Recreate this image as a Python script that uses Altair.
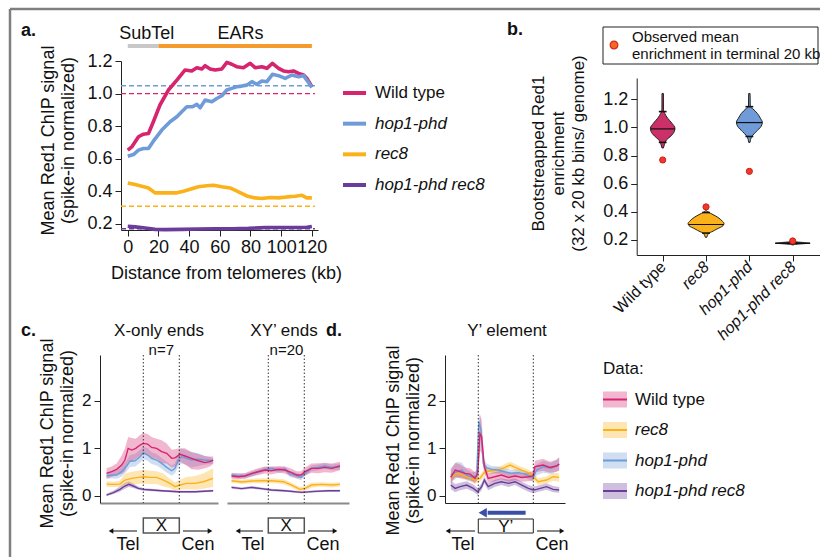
import altair as alt
import pandas as pd

FONT = "Liberation Sans"
W, H = 820, 557

STRAINS = ["Wild type", "hop1-phd", "rec8", "hop1-phd rec8"]
LINE_COLORS = ["#d6246e", "#6f9bd8", "#fbb21a", "#6a3d9a"]
COL = dict(zip(STRAINS, LINE_COLORS))
B_ORDER = ["Wild type", "rec8", "hop1-phd", "hop1-phd rec8"]
VIOLIN_COLORS = ["#cc3068", "#fbb21a", "#6f9bd8", "#111111"]
D_LEG_ORDER = ["Wild type", "rec8", "hop1-phd", "hop1-phd rec8"]

# ---------------- panel a : mean signal vs distance from telomere ----------------
A_KB = {
    "Wild type": [0, 2.6, 7, 10.2, 13.5, 16.7, 21, 26.5, 32, 37.4, 41.7, 45, 48.3, 50.4, 53.7, 57, 61.3, 64.6,
                  67.8, 71, 75.4, 79.8, 83, 87.4, 90.7, 94.3, 98.3, 101.5, 104.8, 108, 111.3, 114.6, 116.7, 120],
    "hop1-phd": [0, 3.7, 7, 10.2, 13.5, 16.7, 22.2, 27.6, 32, 35.2, 38.5, 42.2, 45, 47.2, 50.4, 54.8, 58, 61.3,
                 64.6, 67.8, 71, 74.3, 77.6, 80.9, 84.1, 87.4, 90.7, 94.3, 98.3, 102.6, 107, 111.3, 114.6, 116.7, 120],
    "rec8": [0, 4.8, 9.1, 13.5, 17.8, 22.2, 26.5, 32, 36.3, 40.7, 46.1, 51.5, 55.9, 61.3, 66.7, 72.2, 77.6, 83,
             87.4, 92.8, 98.3, 103.7, 109.1, 113.5, 116.7, 120],
    "hop1-phd rec8": [0, 4.8, 11.3, 17.8, 24.3, 35.2, 46.1, 57, 67.8, 78.7, 89.6, 100.4, 111.3, 116.7, 120],
}
A_SIGNAL = {
    "Wild type": [0.653, 0.673, 0.735, 0.751, 0.755, 0.827, 0.93, 1.022, 1.083, 1.145, 1.139, 1.159, 1.151, 1.171,
                  1.151, 1.145, 1.151, 1.192, 1.18, 1.165, 1.159, 1.186, 1.159, 1.165, 1.155, 1.186, 1.155, 1.139,
                  1.134, 1.139, 1.124, 1.114, 1.094, 1.042],
    "hop1-phd": [0.616, 0.626, 0.653, 0.663, 0.663, 0.708, 0.776, 0.827, 0.858, 0.889, 0.919, 0.919, 0.934, 0.913,
                 0.96, 0.95, 0.97, 0.987, 1.022, 1.032, 1.042, 1.046, 1.052, 1.073, 1.057, 1.077, 1.073, 1.118,
                 1.11, 1.093, 1.114, 1.104, 1.11, 1.083, 1.038],
    "rec8": [0.452, 0.442, 0.432, 0.421, 0.391, 0.391, 0.391, 0.391, 0.401, 0.413, 0.428, 0.434, 0.438, 0.428,
             0.421, 0.397, 0.372, 0.36, 0.356, 0.362, 0.36, 0.366, 0.37, 0.376, 0.36, 0.36],
    "hop1-phd rec8": [0.186, 0.182, 0.175, 0.167, 0.165, 0.167, 0.169, 0.171, 0.171, 0.173, 0.178, 0.178, 0.178,
                      0.18, 0.184],
}
A_GENOME_MEAN = [1.0, 1.048, 0.309, 0.171]          # dashed lines, STRAINS order
A_REGIONS = ["SubTel", "EARs"]
A_REGION_START = [0, 20]
A_REGION_END = [20, 120]
A_REGION_COLORS = ["#c8c8c8", "#f59a2c"]
A_XTICKS = [0, 20, 40, 60, 80, 100, 120]
A_YTICKS = [0.2, 0.4, 0.6, 0.8, 1.0, 1.2]

# ---------------- panel b : bootstrapped enrichment (violins) ----------------
B_OBSERVED = [0.769, 0.435, 0.688, 0.193]
B_MEDIAN = [0.99, 0.31, 1.035, 0.176]
B_MEDIAN_HW = [0.28, 0.41, 0.30, 0.40]
B_Q_HI = [1.113, 0.395, 1.148]
B_Q_LO = [0.894, 0.249, 0.936]
VIOLIN_V = {
    "Wild type": [1.242, 1.125, 1.10, 1.066, 1.03, 0.995, 0.972, 0.94, 0.913, 0.878, 0.854],
    "rec8": [0.407, 0.395, 0.384, 0.36, 0.336, 0.318, 0.301, 0.278, 0.259, 0.249, 0.219],
    "hop1-phd": [1.242, 1.148, 1.136, 1.10, 1.066, 1.038, 1.007, 0.972, 0.941, 0.915, 0.894],
    "hop1-phd rec8": [0.19, 0.186, 0.181, 0.177, 0.173, 0.169, 0.165],
}
VIOLIN_HW = {
    "Wild type": [0.016, 0.018, 0.046, 0.115, 0.214, 0.283, 0.269, 0.191, 0.092, 0.039, 0.016],
    "rec8": [0.018, 0.069, 0.138, 0.276, 0.368, 0.414, 0.391, 0.253, 0.138, 0.069, 0.018],
    "hop1-phd": [0.016, 0.021, 0.069, 0.184, 0.253, 0.299, 0.269, 0.161, 0.069, 0.028, 0.016],
    "hop1-phd rec8": [0.018, 0.092, 0.276, 0.402, 0.23, 0.069, 0.018],
}

# ---------------- panels c, d : metaplots with confidence bands ----------------
C1 = {
    "Wild type": dict(
        x=[-1.02, -0.88, -0.74, -0.6, -0.51, -0.42, -0.32, -0.21, -0.09, 0, 0.12, 0.23, 0.37, 0.51, 0.65, 0.79, 0.88,
           1.02, 1.16, 1.34, 1.53, 1.71, 1.85, 1.94],
        m=[0.476, 0.51, 0.56, 0.65, 0.755, 1.0, 0.965, 1.0, 1.07, 1.105, 1.09, 1.02, 1.0, 0.93, 0.895, 0.79, 0.80,
           0.874, 0.84, 0.79, 0.74, 0.70, 0.72, 0.755],
        lo=[0.37, 0.40, 0.44, 0.46, 0.52, 0.72, 0.72, 0.78, 0.84, 0.87, 0.86, 0.80, 0.78, 0.69, 0.68, 0.60, 0.62,
            0.72, 0.66, 0.56, 0.55, 0.58, 0.62, 0.67],
        hi=[0.58, 0.62, 0.68, 0.85, 1.0, 1.24, 1.22, 1.2, 1.28, 1.33, 1.30, 1.24, 1.2, 1.17, 1.1, 0.97, 0.98, 1.0,
            1.0, 0.92, 0.88, 0.84, 0.83, 0.83]),
    "hop1-phd": dict(
        x=[-1.02, -0.88, -0.74, -0.6, -0.46, -0.37, -0.23, -0.09, 0, 0.12, 0.23, 0.37, 0.51, 0.65, 0.79, 0.88, 0.97,
           1.06, 1.2, 1.34, 1.53, 1.71, 1.94],
        m=[0.42, 0.44, 0.44, 0.51, 0.63, 0.73, 0.74, 0.825, 0.91, 0.86, 0.79, 0.755, 0.685, 0.60, 0.53, 0.58, 0.755,
           0.825, 0.79, 0.755, 0.77, 0.755, 0.74],
        lo=[0.35, 0.37, 0.36, 0.41, 0.52, 0.61, 0.62, 0.70, 0.77, 0.74, 0.67, 0.64, 0.57, 0.49, 0.43, 0.47, 0.62,
            0.68, 0.65, 0.6, 0.63, 0.66, 0.67],
        hi=[0.50, 0.52, 0.53, 0.62, 0.75, 0.86, 0.88, 0.97, 1.03, 1.0, 0.92, 0.88, 0.8, 0.72, 0.64, 0.69, 0.9, 0.99,
            0.96, 0.93, 0.9, 0.84, 0.8]),
    "rec8": dict(
        x=[-1.02, -0.83, -0.65, -0.51, -0.32, -0.14, 0, 0.19, 0.37, 0.56, 0.74, 0.88, 1.02, 1.2, 1.44, 1.67, 1.94],
        m=[0.25, 0.245, 0.25, 0.335, 0.37, 0.39, 0.405, 0.39, 0.39, 0.335, 0.265, 0.196, 0.23, 0.265, 0.265, 0.30,
           0.37],
        lo=[0.19, 0.19, 0.19, 0.22, 0.24, 0.25, 0.26, 0.25, 0.25, 0.2, 0.17, 0.11, 0.13, 0.14, 0.13, 0.15, 0.19],
        hi=[0.31, 0.30, 0.32, 0.47, 0.51, 0.53, 0.55, 0.53, 0.52, 0.47, 0.36, 0.29, 0.34, 0.40, 0.42, 0.48, 0.58]),
    "hop1-phd rec8": dict(
        x=[-1.02, -0.83, -0.65, -0.51, -0.4, -0.28, -0.14, 0, 0.23, 0.51, 0.97, 1.44, 1.94],
        m=[0.02, 0.07, 0.14, 0.21, 0.245, 0.21, 0.16, 0.14, 0.126, 0.11, 0.09, 0.09, 0.11],
        lo=[0.0, 0.04, 0.09, 0.15, 0.19, 0.17, 0.13, 0.11, 0.10, 0.09, 0.07, 0.07, 0.09],
        hi=[0.05, 0.11, 0.2, 0.28, 0.31, 0.26, 0.2, 0.17, 0.15, 0.13, 0.11, 0.11, 0.13]),
}
C2 = {
    "Wild type": dict(
        x=[-1.02, -0.83, -0.65, -0.46, -0.28, -0.09, 0.09, 0.28, 0.46, 0.65, 0.79, 0.91, 1.02, 1.2, 1.39, 1.57,
           1.76, 1.99],
        m=[0.42, 0.405, 0.42, 0.475, 0.51, 0.545, 0.53, 0.56, 0.545, 0.49, 0.44, 0.44, 0.51, 0.58, 0.58, 0.60,
           0.58, 0.63],
        lo=[0.36, 0.35, 0.36, 0.41, 0.44, 0.47, 0.45, 0.49, 0.47, 0.41, 0.37, 0.37, 0.43, 0.49, 0.48, 0.5, 0.49,
            0.54],
        hi=[0.48, 0.47, 0.48, 0.54, 0.58, 0.62, 0.61, 0.63, 0.62, 0.57, 0.52, 0.52, 0.6, 0.68, 0.69, 0.7, 0.68,
            0.72]),
    "hop1-phd": dict(
        x=[-1.02, -0.83, -0.65, -0.46, -0.28, -0.09, 0.09, 0.28, 0.46, 0.6, 0.74, 0.91, 1.02, 1.2, 1.39, 1.57,
           1.76, 1.99],
        m=[0.44, 0.42, 0.42, 0.46, 0.51, 0.56, 0.58, 0.545, 0.565, 0.46, 0.44, 0.39, 0.475, 0.58, 0.60, 0.63,
           0.60, 0.615],
        lo=[0.39, 0.37, 0.37, 0.41, 0.46, 0.51, 0.53, 0.49, 0.51, 0.40, 0.38, 0.33, 0.42, 0.52, 0.54, 0.57, 0.54,
            0.55],
        hi=[0.49, 0.47, 0.47, 0.51, 0.56, 0.61, 0.63, 0.6, 0.62, 0.52, 0.5, 0.45, 0.53, 0.64, 0.66, 0.69, 0.66,
            0.68]),
    "rec8": dict(
        x=[-1.02, -0.74, -0.46, -0.19, 0.09, 0.42, 0.65, 0.88, 1.02, 1.2, 1.48, 1.76, 1.99],
        m=[0.32, 0.295, 0.315, 0.32, 0.32, 0.30, 0.23, 0.14, 0.16, 0.23, 0.245, 0.23, 0.245],
        lo=[0.28, 0.25, 0.27, 0.27, 0.27, 0.25, 0.18, 0.09, 0.11, 0.18, 0.2, 0.18, 0.2],
        hi=[0.36, 0.34, 0.36, 0.37, 0.37, 0.35, 0.28, 0.19, 0.21, 0.28, 0.29, 0.28, 0.29]),
    "hop1-phd rec8": dict(
        x=[-1.02, -0.74, -0.46, -0.19, 0.09, 0.46, 0.93, 1.3, 1.67, 1.99],
        m=[0.18, 0.155, 0.18, 0.155, 0.126, 0.11, 0.077, 0.098, 0.11, 0.11],
        lo=[0.15, 0.13, 0.15, 0.13, 0.10, 0.09, 0.055, 0.075, 0.09, 0.09],
        hi=[0.21, 0.18, 0.21, 0.18, 0.15, 0.13, 0.1, 0.12, 0.13, 0.13]),
}
D = {
    "Wild type": dict(
        x=[-0.5, -0.42, -0.33, -0.24, -0.15, -0.06, -0.01, 0.03, 0.06, 0.11, 0.18, 0.30, 0.42, 0.55, 0.67, 0.79,
           0.91, 1.0, 1.03, 1.18, 1.3, 1.42, 1.47],
        m=[0.39, 0.545, 0.51, 0.475, 0.46, 0.37, 0.475, 1.31, 1.245, 0.615, 0.37, 0.405, 0.44, 0.39, 0.42, 0.39,
           0.405, 0.42, 0.615, 0.65, 0.60, 0.63, 0.67],
        lo=[0.25, 0.4, 0.37, 0.36, 0.34, 0.26, 0.35, 0.95, 0.9, 0.48, 0.28, 0.31, 0.35, 0.3, 0.33, 0.3, 0.31, 0.32,
            0.5, 0.53, 0.49, 0.51, 0.53],
        hi=[0.55, 0.7, 0.66, 0.6, 0.58, 0.5, 0.6, 1.72, 1.6, 0.75, 0.47, 0.5, 0.53, 0.48, 0.51, 0.48, 0.5, 0.52,
            0.74, 0.78, 0.72, 0.76, 0.82]),
    "hop1-phd": dict(
        x=[-0.5, -0.39, -0.3, -0.21, -0.12, -0.03, 0.01, 0.05, 0.09, 0.15, 0.24, 0.36, 0.48, 0.61, 0.73, 0.85,
           0.94, 1.0, 1.06, 1.18, 1.33, 1.47],
        m=[0.44, 0.51, 0.545, 0.44, 0.405, 0.42, 1.56, 1.385, 0.685, 0.595, 0.56, 0.545, 0.51, 0.475, 0.49, 0.46,
           0.405, 0.39, 0.545, 0.615, 0.58, 0.67],
        lo=[0.3, 0.38, 0.4, 0.33, 0.31, 0.32, 1.3, 1.15, 0.57, 0.51, 0.49, 0.47, 0.44, 0.4, 0.42, 0.39, 0.33, 0.31,
            0.43, 0.49, 0.46, 0.54],
        hi=[0.58, 0.72, 0.7, 0.56, 0.5, 0.52, 1.75, 1.58, 0.8, 0.68, 0.63, 0.62, 0.58, 0.55, 0.56, 0.53, 0.48,
            0.47, 0.66, 0.74, 0.7, 0.8]),
    "rec8": dict(
        x=[-0.5, -0.39, -0.3, -0.18, -0.06, 0.03, 0.12, 0.24, 0.36, 0.48, 0.58, 0.67, 0.79, 0.91, 1.0, 1.09, 1.24,
           1.36, 1.47],
        m=[0.39, 0.475, 0.44, 0.39, 0.335, 0.37, 0.51, 0.53, 0.545, 0.60, 0.65, 0.60, 0.545, 0.49, 0.405, 0.30,
           0.335, 0.405, 0.39],
        lo=[0.31, 0.4, 0.36, 0.32, 0.26, 0.3, 0.44, 0.46, 0.48, 0.53, 0.58, 0.53, 0.48, 0.42, 0.33, 0.23, 0.26,
            0.32, 0.3],
        hi=[0.47, 0.55, 0.52, 0.46, 0.41, 0.44, 0.58, 0.6, 0.61, 0.67, 0.72, 0.67, 0.61, 0.56, 0.48, 0.37, 0.41,
            0.49, 0.48]),
    "hop1-phd rec8": dict(
        x=[-0.5, -0.42, -0.33, -0.21, -0.09, -0.01, 0.06, 0.11, 0.18, 0.3, 0.42, 0.55, 0.67, 0.79, 0.91, 1.0, 1.06,
           1.24, 1.36, 1.47],
        m=[0.23, 0.16, 0.196, 0.23, 0.16, 0.09, 0.196, 0.335, 0.196, 0.265, 0.30, 0.265, 0.30, 0.23, 0.16, 0.126,
           0.14, 0.196, 0.14, 0.126],
        lo=[0.14, 0.08, 0.12, 0.15, 0.09, 0.02, 0.12, 0.26, 0.12, 0.19, 0.23, 0.19, 0.23, 0.16, 0.09, 0.06, 0.08,
            0.13, 0.08, 0.07],
        hi=[0.32, 0.25, 0.28, 0.31, 0.24, 0.17, 0.27, 0.41, 0.27, 0.34, 0.37, 0.34, 0.37, 0.3, 0.23, 0.2, 0.21,
            0.27, 0.21, 0.19]),
}
CD_YTICKS = [0, 1, 2]
ELEMENT_EDGES = [0, 1]


# ---------------- helpers ----------------
def lin(dom, rng):
    return alt.Scale(domain=dom, range=rng, nice=False, zero=False)


def one(**kw):
    return pd.DataFrame({k: [v] for k, v in kw.items()})


layers = []


def text(s, x, y, size=17, weight="normal", style="normal", align="left", baseline="middle", color="#111"):
    layers.append(alt.Chart(one(t=s)).mark_text(
        font=FONT, fontSize=size, fontWeight=weight, fontStyle=style, align=align,
        baseline=baseline, color=color).encode(x=alt.value(x), y=alt.value(y), text="t:N"))


def hrule(x1, x2, y, color="#111", width=1.0, dash=None):
    kw = dict(color=color, strokeWidth=width)
    if dash:
        kw["strokeDash"] = dash
    layers.append(alt.Chart(one(a=0)).mark_rule(**kw).encode(
        x=alt.value(x1), x2=alt.value(x2), y=alt.value(y)))


def tri(x, y, shape, size=28, color="#111"):
    layers.append(alt.Chart(one(a=0)).mark_point(shape=shape, filled=True, size=size, color=color, opacity=1)
                  .encode(x=alt.value(x), y=alt.value(y)))


# ---------------- frame ----------------
layers.append(alt.Chart(one(a=0)).mark_rule(color="#7f7f7f", strokeWidth=2.5).encode(
    x=alt.value(10), x2=alt.value(W), y=alt.value(9)))
layers.append(alt.Chart(one(a=0)).mark_rule(color="#7f7f7f", strokeWidth=2.5).encode(
    x=alt.value(10), y=alt.value(9), y2=alt.value(H)))

# ================= panel a =================
A_XS = lin([-4.4, 124], [121, 318])
A_YS = lin([0.163, 1.2], [230, 61])
axA_x = alt.Axis(orient="bottom", offset=230 - H, values=A_XTICKS, tickSize=6, labelFontSize=18,
                 labelPadding=2, labelOverlap=False, labelFlush=False, title="Distance from telomeres (kb)",
                 titleFontSize=18, titleX=226, titleY=43, titleBaseline="middle", titleAlign="center")
axA_y = alt.Axis(orient="left", offset=-121, values=A_YTICKS, format=".1f", tickSize=6, labelFontSize=18,
                 labelPadding=3, labelOverlap=False, labelFlush=False,
                 title=["Mean Red1 ChIP signal", "(spike-in normalized)"], titleFontSize=18, titleAngle=270,
                 titleX=-73, titleY=140, titleAlign="center", titleBaseline="middle", titleLineHeight=20)

dash_df = pd.DataFrame({"strain": STRAINS, "v": A_GENOME_MEAN,
                        "x0": [-4.4] * 4, "x1": [122] * 4})
layers.append(alt.Chart(dash_df).mark_rule(strokeDash=[5, 3], strokeWidth=1.4).encode(
    x=alt.X("x0:Q", scale=A_XS, axis=axA_x), x2="x1:Q",
    y=alt.Y("v:Q", scale=A_YS, axis=axA_y),
    color=alt.Color("strain:N", scale=alt.Scale(domain=STRAINS, range=LINE_COLORS), legend=None)))

for s in ["rec8", "hop1-phd rec8", "Wild type", "hop1-phd"]:
    df = pd.DataFrame({"kb": A_KB[s], "v": A_SIGNAL[s]})
    layers.append(alt.Chart(df).mark_line(color=COL[s], strokeWidth=3.6, strokeJoin="round").encode(
        x=alt.X("kb:Q", scale=A_XS, axis=None), y=alt.Y("v:Q", scale=A_YS, axis=None)))

reg_df = pd.DataFrame({"region": A_REGIONS, "x0": A_REGION_START, "x1": A_REGION_END})
layers.append(alt.Chart(reg_df).mark_rule(strokeWidth=4).encode(
    x=alt.X("x0:Q", scale=A_XS, axis=None), x2="x1:Q", y=alt.value(46),
    color=alt.Color("region:N", scale=alt.Scale(domain=A_REGIONS, range=A_REGION_COLORS), legend=None)))
reg_lab = pd.DataFrame({"region": A_REGIONS, "xc": [12.4, 73.5]})
layers.append(alt.Chart(reg_lab).mark_text(font=FONT, fontSize=18, color="#111", baseline="middle").encode(
    x=alt.X("xc:Q", scale=A_XS, axis=None), y=alt.value(34), text="region:N"))

# legend a
LEG_A = alt.Scale(type="point", domain=STRAINS, range=[93, 185], padding=0)
leg_df = pd.DataFrame({"strain": STRAINS})
layers.append(alt.Chart(leg_df).mark_rule(strokeWidth=4).encode(
    x=alt.value(343), x2=alt.value(366), y=alt.Y("strain:N", scale=LEG_A, axis=None),
    color=alt.Color("strain:N", scale=alt.Scale(domain=STRAINS, range=LINE_COLORS), legend=None)))
layers.append(alt.Chart(leg_df[leg_df.strain == "Wild type"]).mark_text(
    font=FONT, fontSize=17, align="left", baseline="middle", color="#111").encode(
    x=alt.value(375), y=alt.Y("strain:N", scale=LEG_A, axis=None), text="strain:N"))
layers.append(alt.Chart(leg_df[leg_df.strain != "Wild type"]).mark_text(
    font=FONT, fontSize=17, fontStyle="italic", align="left", baseline="middle", color="#111").encode(
    x=alt.value(375), y=alt.Y("strain:N", scale=LEG_A, axis=None), text="strain:N"))

text("a.", 21, 31, size=18, weight="bold")

# ================= panel b =================
B_XS = lin([0.4, 4.63], [636.7, 820])
B_YS = lin([0.093, 1.352], [255, 78])
lab_expr = " : ".join([f"datum.value == {i + 1} ? '{n}'" for i, n in enumerate(B_ORDER)]) + " : ''"
axB_x = alt.Axis(orient="bottom", offset=255 - H, values=[1, 2, 3, 4], labelExpr=lab_expr, tickSize=6,
                 labelFontSize=16, labelAngle=315, labelAlign="right", labelBaseline="middle", labelPadding=3,
                 labelOverlap=False, labelFlush=False, title=None,
                 labelFontStyle={"condition": {"test": "datum.value == 1", "value": "normal"}, "value": "italic"})
axB_y = alt.Axis(orient="left", offset=-636.7, values=A_YTICKS, format=".1f", tickSize=6, labelFontSize=18,
                 labelPadding=3, labelOverlap=False, labelFlush=False,
                 title=["Bootstreapped Red1", "enrichment", "(32 x 20 kb bins/ genome)"], titleFontSize=17,
                 titleAngle=270, titleX=-98.7, titleY=153, titleAlign="center", titleBaseline="middle",
                 titleLineHeight=20)

first = True
for i, s in enumerate(B_ORDER):
    pos = i + 1
    vdf = pd.DataFrame({"v": VIOLIN_V[s],
                        "xl": [pos - h for h in VIOLIN_HW[s]],
                        "xr": [pos + h for h in VIOLIN_HW[s]]})
    layers.append(alt.Chart(vdf).mark_area(orient="horizontal", interpolate="monotone", fill=VIOLIN_COLORS[i],
                                           stroke="#222", strokeWidth=1, opacity=1).encode(
        y=alt.Y("v:Q", scale=B_YS, axis=axB_y if first else None),
        x=alt.X("xl:Q", scale=B_XS, axis=axB_x if first else None), x2="xr:Q"))
    first = False

med_df = pd.DataFrame({"v": B_MEDIAN,
                       "xl": [i + 1 - h for i, h in enumerate(B_MEDIAN_HW)],
                       "xr": [i + 1 + h for i, h in enumerate(B_MEDIAN_HW)]})
layers.append(alt.Chart(med_df).mark_rule(color="#111", strokeWidth=1.2).encode(
    x=alt.X("xl:Q", scale=B_XS, axis=None), x2="xr:Q", y=alt.Y("v:Q", scale=B_YS, axis=None)))
q_df = pd.DataFrame({"v": B_Q_HI + B_Q_LO,
                     "xl": [p - 0.09 for p in [1, 2, 3]] * 2,
                     "xr": [p + 0.09 for p in [1, 2, 3]] * 2})
layers.append(alt.Chart(q_df).mark_rule(color="#111", strokeWidth=1.6).encode(
    x=alt.X("xl:Q", scale=B_XS, axis=None), x2="xr:Q", y=alt.Y("v:Q", scale=B_YS, axis=None)))
obs_df = pd.DataFrame({"pos": [1, 2, 3, 4], "v": B_OBSERVED})
layers.append(alt.Chart(obs_df).mark_point(filled=True, size=38, fill="#ec3b2b", stroke="#d21c1c",
                                           strokeWidth=1, opacity=1).encode(
    x=alt.X("pos:Q", scale=B_XS, axis=None), y=alt.Y("v:Q", scale=B_YS, axis=None)))

# legend box b
layers.append(alt.Chart(one(a=0)).mark_rect(fill="white", stroke="#222", strokeWidth=1).encode(
    x=alt.value(603), x2=alt.value(818), y=alt.value(27), y2=alt.value(64)))
layers.append(alt.Chart(one(a=0)).mark_point(filled=True, size=60, fill="#f26a21", stroke="#d7261e",
                                             strokeWidth=1.2, opacity=1).encode(
    x=alt.value(614), y=alt.value(45)))
text("Observed mean", 632, 37, size=15)
text("enrichment in terminal 20 kb", 632, 54, size=15)
text("b.", 507, 30, size=18, weight="bold")

# ================= panels c and d =================
CY = lin([-0.147, 2.96], [503, 355])
C1_XS = lin([-1.203, 2.075], [100, 218])
C2_XS = lin([-1.147, 2.242], [227, 349])
D_XS = lin([-0.605, 1.576], [445, 565])


def cd_yaxis(offset, tx, ty):
    return alt.Axis(orient="left", offset=offset, values=CD_YTICKS, tickSize=6, labelFontSize=17,
                    labelPadding=3, labelOverlap=False, labelFlush=False,
                    title=["Mean  Red1 ChIP signal", "(spike-in normalized)"], titleFontSize=18,
                    titleAngle=270, titleX=tx, titleY=ty, titleAlign="center", titleBaseline="middle",
                    titleLineHeight=20)


def flat_xaxis(color, width):
    return alt.Axis(orient="bottom", offset=503 - H, ticks=False, labels=False, title=None,
                    domainColor=color, domainWidth=width)


def metaplot(data, xs, xaxis, yaxis):
    order = ["hop1-phd rec8", "rec8", "hop1-phd", "Wild type"]
    first_layer = True
    for s in order:
        d = data[s]
        df = pd.DataFrame({"x": d["x"], "lo": d["lo"], "hi": d["hi"]})
        layers.append(alt.Chart(df).mark_area(color=COL[s], opacity=0.33).encode(
            x=alt.X("x:Q", scale=xs, axis=xaxis if first_layer else None),
            y=alt.Y("lo:Q", scale=CY, axis=yaxis if first_layer else None), y2="hi:Q"))
        first_layer = False
    for s in order:
        d = data[s]
        df = pd.DataFrame({"x": d["x"], "m": d["m"]})
        layers.append(alt.Chart(df).mark_line(color=COL[s], strokeWidth=1.4).encode(
            x=alt.X("x:Q", scale=xs, axis=None), y=alt.Y("m:Q", scale=CY, axis=None)))
    edges = pd.DataFrame({"u": ELEMENT_EDGES})
    layers.append(alt.Chart(edges).mark_rule(color="#333", strokeWidth=1, strokeDash=[1.5, 2]).encode(
        x=alt.X("u:Q", scale=xs, axis=None), y=alt.value(355), y2=alt.value(503)))


def element_box(xs, label, y0, y1, stroke, sw):
    df = pd.DataFrame({"u0": [ELEMENT_EDGES[0]], "u1": [ELEMENT_EDGES[1]], "lab": [label],
                       "uc": [(ELEMENT_EDGES[0] + ELEMENT_EDGES[1]) / 2]})
    layers.append(alt.Chart(df).mark_rect(fill="white", stroke=stroke, strokeWidth=sw).encode(
        x=alt.X("u0:Q", scale=xs, axis=None), x2="u1:Q", y=alt.value(y0), y2=alt.value(y1)))
    layers.append(alt.Chart(df).mark_text(font=FONT, fontSize=17, color="#111", baseline="middle").encode(
        x=alt.X("uc:Q", scale=xs, axis=None), y=alt.value((y0 + y1) / 2 + 0.5), text="lab:N"))


def tel_cen(tel_x1, tel_x2, cen_x1, cen_x2, tel_lab, cen_lab):
    hrule(tel_x2, tel_x1 + 3, 531)
    tri(tel_x1 + 3, 531, "triangle-left")
    hrule(cen_x1, cen_x2 - 3, 531)
    tri(cen_x2 - 3, 531, "triangle-right")
    text("Tel", tel_lab, 545, size=18, align="center")
    text("Cen", cen_lab, 545, size=18, align="center")


metaplot(C1, C1_XS, flat_xaxis("#8a8a8a", 2), cd_yaxis(-100, -53, 433))
metaplot(C2, C2_XS, flat_xaxis("#8a8a8a", 2), None)
metaplot(D, D_XS, flat_xaxis("#222", 1), cd_yaxis(-445, -51.7, 440))

element_box(C1_XS, "X", 518, 533, "#555", 1.5)
element_box(C2_XS, "X", 518, 533, "#555", 1.5)
element_box(D_XS, "Y\u2019", 519, 533, "#222", 1)
tel_cen(108, 137, 183, 213, 128, 198)
tel_cen(235, 263, 308, 338, 253, 323)
tel_cen(445, 475, 537, 565, 463, 552)

# blue Y' orientation arrow
arrow_df = pd.DataFrame({"u0": [0.86], "u1": [0.17]})
layers.append(alt.Chart(arrow_df).mark_rule(color="#3a4ea6", strokeWidth=4).encode(
    x=alt.X("u0:Q", scale=D_XS, axis=None), x2="u1:Q", y=alt.value(512.7)))
layers.append(alt.Chart(pd.DataFrame({"u": [0.08]})).mark_point(
    shape="triangle-left", filled=True, size=90, color="#3a4ea6", opacity=1).encode(
    x=alt.X("u:Q", scale=D_XS, axis=None), y=alt.value(512.7)))

text("c.", 21, 331, size=18, weight="bold")
text("d.", 326, 331, size=18, weight="bold")
text("X-only ends", 159, 331, size=17, align="center")
text("XY\u2019 ends", 284, 331, size=17, align="center")
text("Y\u2019 element", 507, 331, size=17, align="center")
text("n=7", 161.3, 350, size=15, align="center")
text("n=20", 286.5, 350, size=15, align="center")

# legend d
text("Data:", 603, 369, size=17)
LEG_D = alt.Scale(type="point", domain=D_LEG_ORDER, range=[399.5, 491], padding=0)
legd_df = pd.DataFrame({"strain": D_LEG_ORDER})
cmap = alt.Scale(domain=STRAINS, range=LINE_COLORS)
layers.append(alt.Chart(legd_df).mark_rule(strokeWidth=16, opacity=0.33, strokeCap="butt").encode(
    x=alt.value(603), x2=alt.value(627), y=alt.Y("strain:N", scale=LEG_D, axis=None),
    color=alt.Color("strain:N", scale=cmap, legend=None)))
layers.append(alt.Chart(legd_df).mark_rule(strokeWidth=2).encode(
    x=alt.value(603), x2=alt.value(627), y=alt.Y("strain:N", scale=LEG_D, axis=None),
    color=alt.Color("strain:N", scale=cmap, legend=None)))
layers.append(alt.Chart(legd_df[legd_df.strain == "Wild type"]).mark_text(
    font=FONT, fontSize=17, align="left", baseline="middle", color="#111").encode(
    x=alt.value(635), y=alt.Y("strain:N", scale=LEG_D, axis=None), text="strain:N"))
layers.append(alt.Chart(legd_df[legd_df.strain != "Wild type"]).mark_text(
    font=FONT, fontSize=17, fontStyle="italic", align="left", baseline="middle", color="#111").encode(
    x=alt.value(635), y=alt.Y("strain:N", scale=LEG_D, axis=None), text="strain:N"))

chart = alt.layer(*layers).resolve_scale(
    x="independent", y="independent", color="independent"
).properties(
    width=W, height=H, autosize=alt.AutoSizeParams(type="none"), padding=0
).configure_view(stroke=None).configure_axis(
    grid=False, labelFont=FONT, titleFont=FONT, labelColor="#111", titleColor="#111",
    domainColor="#222", tickColor="#222", titleFontWeight="normal"
).configure_text(font=FONT)

chart.save("out.html", embed_options={"renderer": "svg", "actions": False})
